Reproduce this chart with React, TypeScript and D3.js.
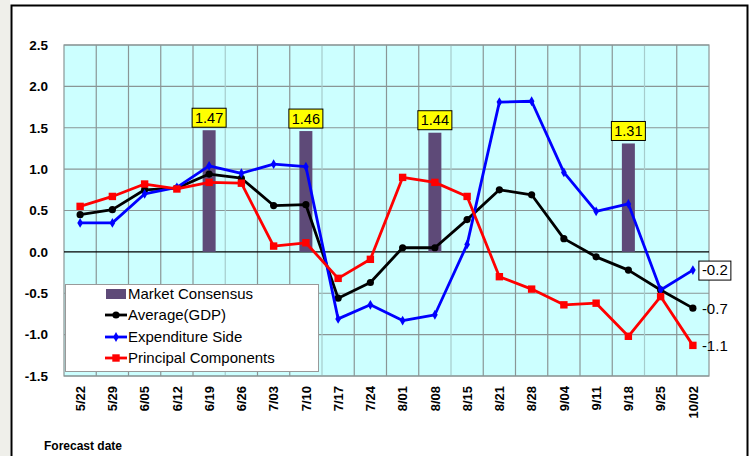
import React from 'react';
import * as d3 from 'd3';

// forecast dates (x categories)
const dates = ['5/22', '5/29', '6/05', '6/12', '6/19', '6/26', '7/03', '7/10', '7/17', '7/24',
  '8/01', '8/08', '8/15', '8/21', '8/28', '9/04', '9/11', '9/18', '9/25', '10/02'];

// market consensus bars (only some dates)
const consensusDates = ['6/19', '7/10', '8/08', '9/18'];
const consensusValues = [1.47, 1.46, 1.44, 1.31];

const averageGdp = [0.45, 0.51, 0.75, 0.77, 0.94, 0.89, 0.56, 0.57, -0.56, -0.37,
  0.05, 0.05, 0.39, 0.75, 0.69, 0.16, -0.06, -0.22, -0.46, -0.68];
const expenditureSide = [0.35, 0.35, 0.70, 0.78, 1.04, 0.95, 1.06, 1.03, -0.81, -0.64,
  -0.83, -0.76, 0.09, 1.81, 1.82, 0.96, 0.49, 0.58, -0.46, -0.22];
const principalComponents = [0.55, 0.67, 0.82, 0.76, 0.84, 0.83, 0.07, 0.11, -0.32, -0.09,
  0.90, 0.84, 0.67, -0.30, -0.45, -0.64, -0.62, -1.02, -0.54, -1.13];

const yTicks = [2.5, 2.0, 1.5, 1.0, 0.5, 0.0, -0.5, -1.0, -1.5];

const W = 752;
const H = 456;
const plot = { left: 64, right: 709, top: 45, bottom: 376 };

const BAR = '#5e4a78';
const GRID = '#8a9696';
const ARIAL = '"Liberation Sans", Arial, sans-serif';

export default function App() {
  const x = d3.scaleBand<string>().domain(dates).range([plot.left, plot.right]).padding(0);
  const y = d3.scaleLinear().domain([-1.5, 2.5]).range([plot.bottom, plot.top]);
  const bw = x.bandwidth();
  const cx = (d: string) => (x(d) as number) + bw / 2;

  const line = d3.line<number>()
    .x((_, i) => cx(dates[i]))
    .y(v => y(v));

  const diamond = d3.symbol().type(d3.symbolDiamond).size(28)() as string;

  const last = dates.length - 1;
  const lastX = cx(dates[last]);
  const labelX = lastX + 9;

  return (
    <svg width={W} height={H} style={{ position: 'absolute', left: 0, top: 0 }}>
      <rect x={0} y={0} width={W} height={H} fill="#ffffff" />
      <rect x={0} y={0} width={10} height={H} fill="#efefea" />
      {/* outer frame */}
      <rect x={11.5} y={5.5} width={736} height={470} fill="#ffffff" stroke="#000" strokeWidth={2} />

      {/* plot background */}
      <rect x={plot.left} y={plot.top} width={plot.right - plot.left} height={plot.bottom - plot.top} fill="#ccffff" />

      {/* horizontal grid */}
      {yTicks.filter(t => t !== 0).map(t => (
        <line key={'h' + t} x1={plot.left} x2={plot.right} y1={y(t)} y2={y(t)} stroke={GRID} strokeWidth={1.2} />
      ))}
      {/* vertical grid */}
      {dates.slice(1).map((d, i) => {
        const afterBar = consensusDates.includes(dates[i]);
        return (
          <line key={'v' + d} x1={x(d)} x2={x(d)} y1={plot.top} y2={plot.bottom}
            stroke={afterBar ? '#a6cccc' : GRID} strokeWidth={1.2} />
        );
      })}
      <rect x={plot.left} y={plot.top} width={plot.right - plot.left} height={plot.bottom - plot.top}
        fill="none" stroke={GRID} strokeWidth={1.2} />
      <line x1={plot.left} x2={plot.right} y1={y(0)} y2={y(0)} stroke="#000" strokeWidth={1.2} />

      {/* y tick labels */}
      {yTicks.map(t => (
        <text key={'yt' + t} x={48} y={y(t)} dy="0.36em" textAnchor="end"
          fontFamily={ARIAL} fontWeight="bold" fontSize={13.5} fill="#000">{t.toFixed(1)}</text>
      ))}

      {/* x tick labels */}
      {dates.map(d => (
        <text key={'xt' + d} transform={`translate(${cx(d)},${386}) rotate(-90)`} dy="0.36em" textAnchor="end"
          fontFamily={ARIAL} fontWeight="bold" fontSize={13} fill="#000">{d}</text>
      ))}

      <text x={44} y={446} dy="0.36em" fontFamily={ARIAL} fontWeight="bold" fontSize={12} fill="#000">Forecast date</text>

      {/* market consensus bars */}
      {consensusDates.map((d, i) => (
        <g key={'b' + d}>
          <rect x={cx(d) - 6.5} y={y(consensusValues[i])} width={13} height={y(0) - y(consensusValues[i])} fill={BAR} />
          <rect x={cx(d) - 17} y={y(consensusValues[i]) - 22} width={34} height={19} fill="#ffff00" stroke="#000" strokeWidth={1} />
          <text x={cx(d)} y={y(consensusValues[i]) - 12.5} dy="0.36em" textAnchor="middle"
            fontFamily={ARIAL} fontSize={14.5} fill="#000">{consensusValues[i].toFixed(2)}</text>
        </g>
      ))}

      {/* average (GDP) */}
      <path d={line(averageGdp) as string} fill="none" stroke="#000" strokeWidth={2.8} strokeLinejoin="round" />
      {averageGdp.map((v, i) => (
        <circle key={'a' + i} cx={cx(dates[i])} cy={y(v)} r={3.6} fill="#000" />
      ))}

      {/* expenditure side */}
      <path d={line(expenditureSide) as string} fill="none" stroke="#0000ff" strokeWidth={2.8} strokeLinejoin="round" />
      {expenditureSide.map((v, i) => (
        <path key={'e' + i} d={diamond} transform={`translate(${cx(dates[i])},${y(v)})`} fill="#0000ff" />
      ))}

      {/* principal components */}
      <path d={line(principalComponents) as string} fill="none" stroke="#ff0000" strokeWidth={2.8} strokeLinejoin="round" />
      {principalComponents.map((v, i) => (
        <rect key={'p' + i} x={cx(dates[i]) - 3.7} y={y(v) - 3.7} width={7.4} height={7.4} fill="#ff0000" />
      ))}

      {/* end labels */}
      <rect x={labelX - 3} y={y(expenditureSide[last]) - 9} width={32} height={19} fill="#fff" stroke="#000" strokeWidth={1} />
      <text x={labelX} y={y(expenditureSide[last])} dy="0.36em" fontFamily={ARIAL} fontSize={15} fill="#000">
        {expenditureSide[last].toFixed(1)}
      </text>
      <text x={labelX} y={y(averageGdp[last])} dy="0.36em" fontFamily={ARIAL} fontSize={15} fill="#000">
        {averageGdp[last].toFixed(1)}
      </text>
      <text x={labelX} y={y(principalComponents[last])} dy="0.36em" fontFamily={ARIAL} fontSize={15} fill="#000">
        {principalComponents[last].toFixed(1)}
      </text>

      {/* legend */}
      <g>
        <rect x={65.5} y={284.5} width={253} height={87} fill="#fff" stroke="#999" strokeWidth={1} />
        <rect x={106} y={289} width={20} height={10} fill={BAR} />
        <text x={128} y={293.5} dy="0.36em" fontFamily={ARIAL} fontSize={15} fill="#000">Market Consensus</text>

        <line x1={105} x2={127} y1={315} y2={315} stroke="#000" strokeWidth={2.8} />
        <circle cx={116} cy={315} r={3.6} fill="#000" />
        <text x={128} y={315} dy="0.36em" fontFamily={ARIAL} fontSize={15} fill="#000">Average(GDP)</text>

        <line x1={105} x2={127} y1={337} y2={337} stroke="#0000ff" strokeWidth={2.8} />
        <path d={diamond} transform="translate(116,337)" fill="#0000ff" />
        <text x={128} y={337} dy="0.36em" fontFamily={ARIAL} fontSize={15} fill="#000">Expenditure Side</text>

        <line x1={105} x2={127} y1={358} y2={358} stroke="#ff0000" strokeWidth={2.8} />
        <rect x={112.3} y={354.3} width={7.4} height={7.4} fill="#ff0000" />
        <text x={128} y={358} dy="0.36em" fontFamily={ARIAL} fontSize={15} fill="#000">Principal Components</text>
      </g>
    </svg>
  );
}
